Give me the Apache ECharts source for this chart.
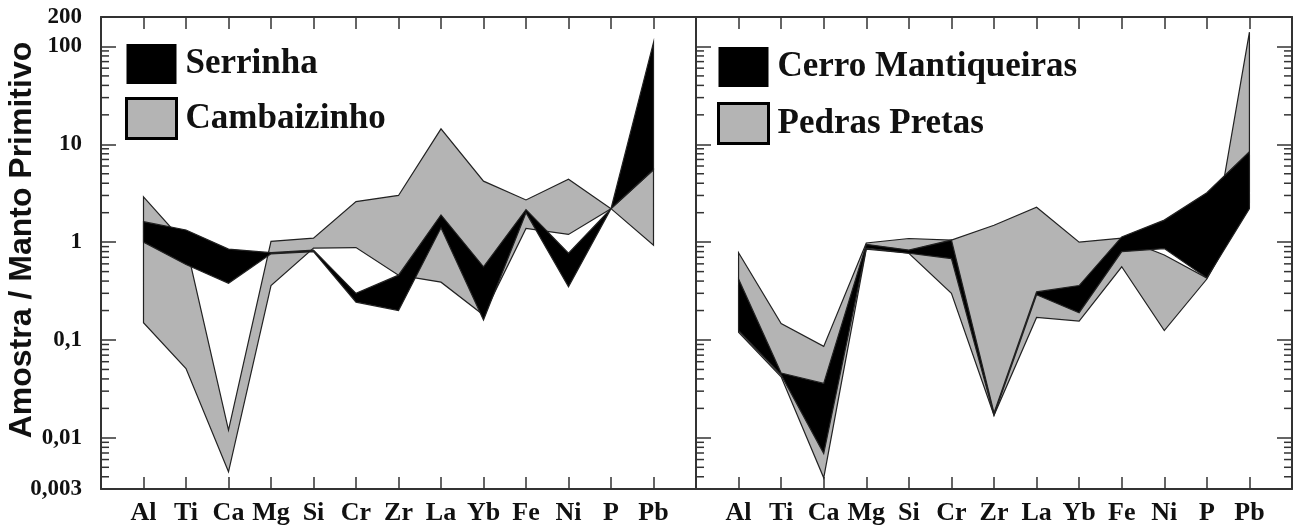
<!DOCTYPE html>
<html>
<head>
<meta charset="utf-8">
<script src="https://cdn.jsdelivr.net/npm/echarts@6/dist/echarts.min.js"></script>
<style>
  html, body { margin: 0; padding: 0; background: #fff; }
  #chart { width: 1296px; height: 528px; }
</style>
</head>
<body>
<div id="chart"></div>
<script>
// element order on the x axis
const elements = ['Al', 'Ti', 'Ca', 'Mg', 'Si', 'Cr', 'Zr', 'La', 'Yb', 'Fe', 'Ni', 'P', 'Pb'];

// left panel envelopes (max / min of each group)
const serrinhaMax = [1.62, 1.33, 0.85, 0.78, 0.83, 0.30, 0.46, 1.9, 0.56, 2.15, 0.77, 2.2, 110];
const serrinhaMin = [1.0, 0.59, 0.38, 0.76, 0.80, 0.244, 0.20, 1.4, 0.16, 2.0, 0.35, 2.2, 5.5];
const cambaizinhoMax = [2.9, 0.95, 0.012, 1.02, 1.1, 2.6, 3.0, 14.4, 4.2, 2.7, 4.4, 2.2, 5.5];
const cambaizinhoMin = [0.15, 0.051, 0.0045, 0.36, 0.87, 0.88, 0.46, 0.39, 0.18, 1.38, 1.2, 2.2, 0.93];

// right panel envelopes
const cerroMax = [0.42, 0.046, 0.036, 0.95, 0.83, 1.05, 0.018, 0.31, 0.36, 1.13, 1.68, 3.2, 8.4];
const cerroMin = [0.125, 0.044, 0.0069, 0.87, 0.77, 0.68, 0.017, 0.29, 0.19, 0.8, 0.86, 0.43, 2.2];
const pedrasMax = [0.78, 0.147, 0.086, 0.98, 1.09, 1.05, 1.49, 2.27, 1.0, 1.1, 0.74, 0.43, 140];
const pedrasMin = [0.12, 0.042, 0.0039, 0.85, 0.77, 0.30, 0.017, 0.17, 0.156, 0.56, 0.125, 0.42, 2.5];

// minor log ticks (2..9 in each decade, below 100)
const minorTicks = [
  0.004, 0.005, 0.006, 0.007, 0.008, 0.009,
  0.02, 0.03, 0.04, 0.05, 0.06, 0.07, 0.08, 0.09,
  0.2, 0.3, 0.4, 0.5, 0.6, 0.7, 0.8, 0.9,
  2, 3, 4, 5, 6, 7, 8, 9,
  20, 30, 40, 50, 60, 70, 80, 90
];

const GRAY = '#b4b4b4';
const AXIS = '#333';
const serif = 'Liberation Serif';

const chart = echarts.init(document.getElementById('chart'));

// one filled polygon per envelope: upper line then lower line reversed
const band = (name, upper, lower, color, xi, yi) => ({
  name,
  type: 'custom',
  xAxisIndex: xi,
  yAxisIndex: yi,
  silent: true,
  data: upper.map((v, i) => [i, v, lower[i]]),
  encode: { x: 0, y: [1, 2] },
  renderItem: (params, api) => {
    if (params.dataIndex !== 0) return null;
    const pts = [];
    upper.forEach((v, i) => pts.push(api.coord([i, v])));
    for (let i = lower.length - 1; i >= 0; i--) pts.push(api.coord([i, lower[i]]));
    return {
      type: 'polygon',
      shape: { points: pts },
      style: { fill: color, stroke: '#222', lineWidth: 1.2 }
    };
  }
});

// short minor ticks drawn inside the frame
const minor = (xi, yi, sides) => ({
  type: 'custom',
  xAxisIndex: xi,
  yAxisIndex: yi,
  silent: true,
  data: minorTicks.map(v => [0, v]),
  encode: { x: 0, y: 1 },
  renderItem: (params, api) => {
    const v = api.value(1);
    const children = [];
    if (sides.includes('left')) {
      const p = api.coord([-1, v]);
      children.push({ type: 'line', shape: { x1: p[0], y1: p[1], x2: p[0] + 8, y2: p[1] }, style: { stroke: AXIS, lineWidth: 1.5 } });
    }
    if (sides.includes('right')) {
      const p = api.coord([13, v]);
      children.push({ type: 'line', shape: { x1: p[0], y1: p[1], x2: p[0] - 8, y2: p[1] }, style: { stroke: AXIS, lineWidth: 1.5 } });
    }
    return { type: 'group', children };
  }
});

const xBase = (gridIndex, position, labels) => ({
  type: 'value',
  gridIndex,
  position,
  min: -1,
  max: 13,
  interval: 1,
  axisLine: { show: true, onZero: false, lineStyle: { color: AXIS, width: 2 } },
  axisTick: { show: true, inside: true, length: 12, lineStyle: { color: AXIS, width: 1.5 } },
  splitLine: { show: false },
  axisLabel: {
    show: labels,
    margin: 11,
    fontFamily: serif,
    fontWeight: 'bold',
    fontSize: 26,
    color: '#111',
    formatter: v => elements[v] || ''
  }
});

const yBase = (gridIndex, position, labels) => ({
  type: 'log',
  logBase: 10,
  gridIndex,
  position,
  min: 0.003,
  max: 200,
  axisLine: { show: true, onZero: false, lineStyle: { color: AXIS, width: 2 } },
  axisTick: { show: true, inside: true, length: 15, lineStyle: { color: AXIS, width: 1.5 } },
  minorTick: { show: false },
  splitLine: { show: false },
  axisLabel: {
    show: labels,
    margin: 19,
    fontFamily: serif,
    fontWeight: 'bold',
    fontSize: 23,
    color: '#111',
    formatter: v => String(Number(v.toPrecision(3))).replace('.', ',')
  }
});

const legendText = { fontFamily: serif, fontWeight: 'bold', fontSize: 35, color: '#111', padding: [0, 0, 0, 4] };

chart.setOption({
  animation: false,
  backgroundColor: '#fff',
  grid: [
    { left: 101, top: 17, width: 595, height: 472 },
    { left: 696, top: 17, width: 596, height: 472 }
  ],
  xAxis: [
    xBase(0, 'bottom', true),
    xBase(0, 'top', false),
    xBase(1, 'bottom', true),
    xBase(1, 'top', false)
  ],
  yAxis: [
    yBase(0, 'left', true),
    yBase(1, 'left', false),
    yBase(1, 'right', false)
  ],
  legend: [
    {
      left: 125, top: 44, padding: 0, orient: 'vertical', icon: 'rect',
      itemWidth: 50, itemHeight: 40, itemGap: 13, selectedMode: false,
      textStyle: legendText,
      data: [
        { name: 'Serrinha', itemStyle: { color: '#000', borderWidth: 0 } },
        { name: 'Cambaizinho', itemStyle: { color: GRAY, borderColor: '#000', borderWidth: 3 } }
      ]
    },
    {
      left: 717, top: 47, padding: 0, orient: 'vertical', icon: 'rect',
      itemWidth: 50, itemHeight: 40, itemGap: 15, selectedMode: false,
      textStyle: legendText,
      data: [
        { name: 'Cerro Mantiqueiras', itemStyle: { color: '#000', borderWidth: 0 } },
        { name: 'Pedras Pretas', itemStyle: { color: GRAY, borderColor: '#000', borderWidth: 3 } }
      ]
    }
  ],
  graphic: [
    {
      type: 'text',
      x: 22,
      y: 240,
      rotation: Math.PI / 2,
      style: {
        text: 'Amostra / Manto Primitivo',
        font: 'bold 32px "Liberation Sans"',
        fill: '#111',
        align: 'center',
        verticalAlign: 'middle'
      }
    }
  ],
  series: [
    band('Cambaizinho', cambaizinhoMax, cambaizinhoMin, GRAY, 0, 0),
    band('Serrinha', serrinhaMax, serrinhaMin, '#000', 0, 0),
    band('Pedras Pretas', pedrasMax, pedrasMin, GRAY, 2, 1),
    band('Cerro Mantiqueiras', cerroMax, cerroMin, '#000', 2, 1),
    minor(0, 0, ['left']),
    minor(2, 1, ['left', 'right'])
  ]
});
</script>
</body>
</html>
